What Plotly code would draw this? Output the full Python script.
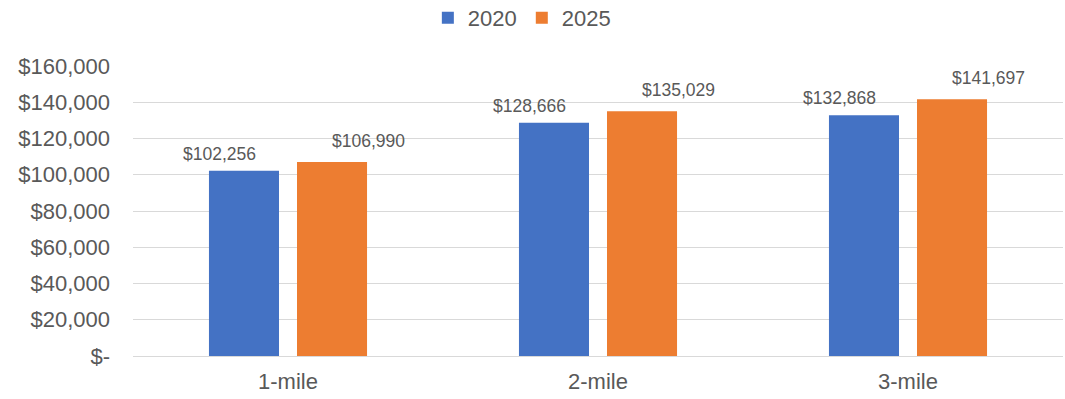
import plotly.graph_objects as go

# Household income by trade-area radius
categories = ["1-mile", "2-mile", "3-mile"]
income_2020 = [102256, 128666, 132868]
income_2025 = [106990, 135029, 141697]
y_ticks = [0, 20000, 40000, 60000, 80000, 100000, 120000, 140000, 160000]
y_tick_labels = ["$-", "$20,000", "$40,000", "$60,000", "$80,000",
                 "$100,000", "$120,000", "$140,000", "$160,000"]

BLUE = "#4472C4"
ORANGE = "#ED7D31"
TEXT = "#595959"
GRID = "#D9D9D9"
FONT = "Liberation Sans, Arial, sans-serif"

fig = go.Figure()
fig.add_trace(go.Bar(name="2020", x=categories, y=income_2020,
                     marker=dict(color=BLUE, line=dict(width=0))))
fig.add_trace(go.Bar(name="2025", x=categories, y=income_2025,
                     marker=dict(color=ORANGE, line=dict(width=0))))

# value labels above each bar
for cat, v in zip(categories, income_2020):
    fig.add_annotation(x=cat, y=v, text=f"${v:,}", showarrow=False,
                       xanchor="center", yanchor="bottom", xshift=-69, yshift=5,
                       font=dict(family=FONT, size=17.5, color=TEXT))
for cat, v in zip(categories, income_2025):
    fig.add_annotation(x=cat, y=v, text=f"${v:,}", showarrow=False,
                       xanchor="center", yanchor="bottom", xshift=80, yshift=9,
                       font=dict(family=FONT, size=17.5, color=TEXT))

fig.update_layout(
    width=1065, height=399,
    margin=dict(l=133, r=2, t=66, b=43, autoexpand=False),
    paper_bgcolor="white", plot_bgcolor="white",
    barmode="group", bargap=0.432, bargroupgap=0.2045,
    font=dict(family=FONT, size=22, color=TEXT),
    showlegend=True,
    legend=dict(orientation="h", x=0.49, xanchor="center", xref="container",
                y=1.238, yref="paper", yanchor="top",
                font=dict(family=FONT, size=22, color=TEXT),
                itemwidth=30, tracegroupgap=0, traceorder="normal"),
    xaxis=dict(showgrid=False, showline=False, zeroline=False,
               ticks="", tickfont=dict(size=22, color=TEXT),
               ticklabelstandoff=10),
    yaxis=dict(range=[0, 160000], tickvals=y_ticks, ticktext=y_tick_labels,
               showgrid=True, gridcolor=GRID, gridwidth=1,
               zeroline=True, zerolinecolor=GRID, zerolinewidth=1,
               showline=False, ticks="", ticklabelstandoff=22,
               tickfont=dict(size=22, color=TEXT)),
)

fig.write_html("out.html")
